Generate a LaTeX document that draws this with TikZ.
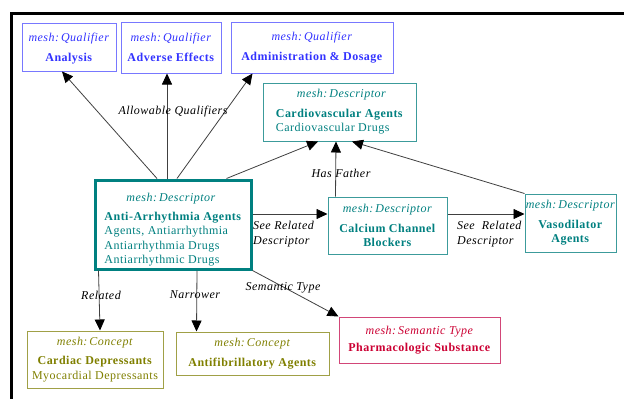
\documentclass[tikz,border=0pt]{standalone}
\usepackage{fontspec}
\setmainfont{Liberation Serif}[LetterSpace=4]
\usetikzlibrary{arrows.meta}

\definecolor{qualText}{RGB}{51,51,255}
\definecolor{qualLine}{RGB}{120,120,255}
\definecolor{descText}{RGB}{0,128,128}
\definecolor{descLine}{RGB}{60,155,155}
\definecolor{concText}{RGB}{128,128,0}
\definecolor{concLine}{RGB}{160,160,70}
\definecolor{semText}{RGB}{204,0,51}
\definecolor{semLine}{RGB}{210,70,120}
\definecolor{edgeColor}{gray}{0.25}

\tikzset{
  box/.style={draw, line width=1pt, inner sep=0pt, align=center,
    font=\fontsize{12}{14.5}\selectfont},
  qualbox/.style={box, draw=qualLine, text=qualText},
  descbox/.style={box, draw=descLine, text=descText},
  concbox/.style={box, draw=concLine, text=concText},
  sembox/.style={box, draw=semLine, text=semText},
  rel/.style={draw=edgeColor, line width=0.8pt,
    -{Triangle[length=11pt,width=10pt,color=black]}},
  rellabel/.style={inner sep=0pt, align=left,
    font=\fontsize{12}{15}\selectfont\itshape}
}

\begin{document}
\begin{tikzpicture}[x=1pt,y=-1pt]
\path[use as bounding box,fill=white] (0,0) rectangle (624,399);

\draw[line width=3pt] (11,399) -- (11,13.5) -- (624,13.5);

\node[qualbox, minimum width=94, minimum height=48] (analysis) at (69,47)
  {\rule{0pt}{12pt}\textit{mesh:\,Qualifier}\\[5pt]\textbf{Analysis}};
\node[qualbox, minimum width=100, minimum height=51] (adverse) at (171,47.5)
  {\textit{mesh:\,Qualifier}\\[5pt]\textbf{Adverse Effects}};
\node[qualbox, minimum width=162, minimum height=51] (admin) at (312,47.5)
  {\textit{mesh:\,Qualifier}\\[5pt]\textbf{Administration \& Dosage}};

\node[descbox, align=left, minimum width=153, minimum height=58] (cardio) at (339.5,112)
  {\hspace*{21pt}\textit{mesh:\,Descriptor}\\[5pt]\textbf{Cardiovascular Agents}\\Cardiovascular Drugs};

\node[descbox, align=left, line width=3pt, draw=descText, minimum width=156, minimum height=89] (anti) at (173,224.5)
  {\rule{0pt}{19pt}\hspace*{22pt}\textit{mesh:\,Descriptor}\\[4pt]\textbf{Anti-Arrhythmia Agents}\\Agents, Antiarrhythmia\\Antiarrhythmia Drugs\\Antiarrhythmic Drugs};

\node[descbox, minimum width=119, minimum height=57] (calcium) at (387.5,225.5)
  {\textit{mesh:\,Descriptor}\\[5pt]\textbf{Calcium Channel}\\\textbf{Blockers}};
\node[descbox, minimum width=91, minimum height=58] (vaso) at (570.5,223)
  {\textit{mesh:\,Descriptor}\\[5pt]\textbf{Vasodilator}\\\textbf{Agents}};

\node[concbox, minimum width=136, minimum height=57] (cardiac) at (95,359.5)
  {\textit{mesh:\,Concept}\\[5pt]\textbf{Cardiac Depressants}\\Myocardial Depressants};
\node[concbox, minimum width=153, minimum height=43] (antifib) at (252.5,353.5)
  {\textit{mesh:\,Concept}\\[5pt]\textbf{Antifibrillatory Agents}};

\node[sembox, minimum width=161, minimum height=46] (pharm) at (419.5,340)
  {\textit{mesh:\,Semantic Type}\\[3pt]\textbf{Pharmacologic Substance}};

\draw[rel] ([xshift=-16pt]anti.north) -- ([xshift=-7pt]analysis.south);
\draw[rel] ([xshift=-6pt]anti.north) -- ([xshift=-4pt]adverse.south);
\draw[rel] ([xshift=4pt]anti.north) -- ([xshift=22pt]admin.south west);
\draw[rel] ([xshift=-26pt]anti.north east) -- ([xshift=-21.5pt]cardio.south);
\draw[rel] ([xshift=8pt]calcium.north west) -- ([xshift=-3.5pt]cardio.south);
\draw[rel] (vaso.north west) -- ([xshift=12.5pt]cardio.south);
\draw[rel] ([yshift=10.5pt]anti.east) -- ([yshift=11.5pt]calcium.west);
\draw[rel] ([yshift=11.5pt]calcium.east) -- ([yshift=9pt]vaso.west);
\draw[rel] ([xshift=5pt]anti.south west) -- ([xshift=5pt]cardiac.north);
\draw[rel] ([xshift=24pt]anti.south) -- ([xshift=21pt]antifib.north west);
\draw[rel] (anti.south east) -- (pharm.north west);

\node[rellabel] (allowable) at (173,112) {Allowable Qualifiers};
\node[rellabel] (father) at (341,173) {Has Father};
\node[rellabel, anchor=west] (seeA) at (253,234.5) {See Related\\Descriptor};
\node[rellabel, anchor=west] (seeB) at (457,234.5) {See \ Related\\Descriptor};
\node[rellabel] (related) at (101,295) {Related};
\node[rellabel] (narrower) at (195,295) {Narrower};
\node[rellabel] (semantic) at (283,288) {Semantic Type};
\end{tikzpicture}
\end{document}
